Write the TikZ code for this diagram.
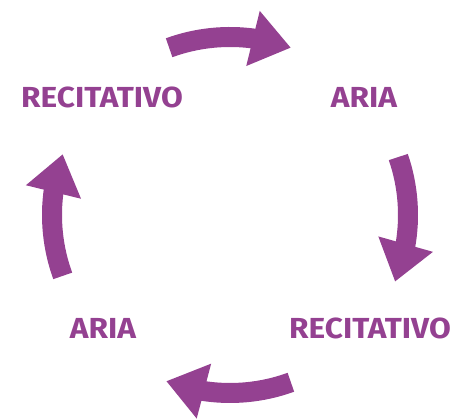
\documentclass[tikz,border=0pt]{standalone}
\usepackage{fontspec}
\setmainfont{Fira Sans}[FakeStretch=1.09]
\usetikzlibrary{arrows.meta,bending}
\definecolor{aria}{RGB}{148,65,145}
\tikzset{
	cyc/.style={line width=20pt, color=aria, -{Triangle[length=39pt,width=54pt,flex]}},
	lbl/.style={text=aria, font=\fontsize{29}{29}\selectfont\bfseries, inner sep=0pt}
}
\begin{document}
\begin{tikzpicture}[x=1pt,y=1pt]
	\useasboundingbox (0,0) rectangle (455,419);
	\coordinate (c) at (230,204);
	\node[lbl] (rec1) at (102,322) {RECITATIVO};
	\node[lbl] (aria1) at (364,322) {ARIA};
	\node[lbl] (rec2) at (370,91) {RECITATIVO};
	\node[lbl] (aria2) at (103,91) {ARIA};
	\draw[cyc] ([shift={(110:178pt)}]c) arc [start angle=110, end angle=70, radius=178pt];
	\draw[cyc] ([shift={(19:178pt)}]c) arc [start angle=19, end angle=-22, radius=178pt];
	\draw[cyc] ([shift={(-70:178pt)}]c) arc [start angle=-70, end angle=-111, radius=178pt];
	\draw[cyc] ([shift={(200:178pt)}]c) arc [start angle=200, end angle=160, radius=178pt];
\end{tikzpicture}
\end{document}
